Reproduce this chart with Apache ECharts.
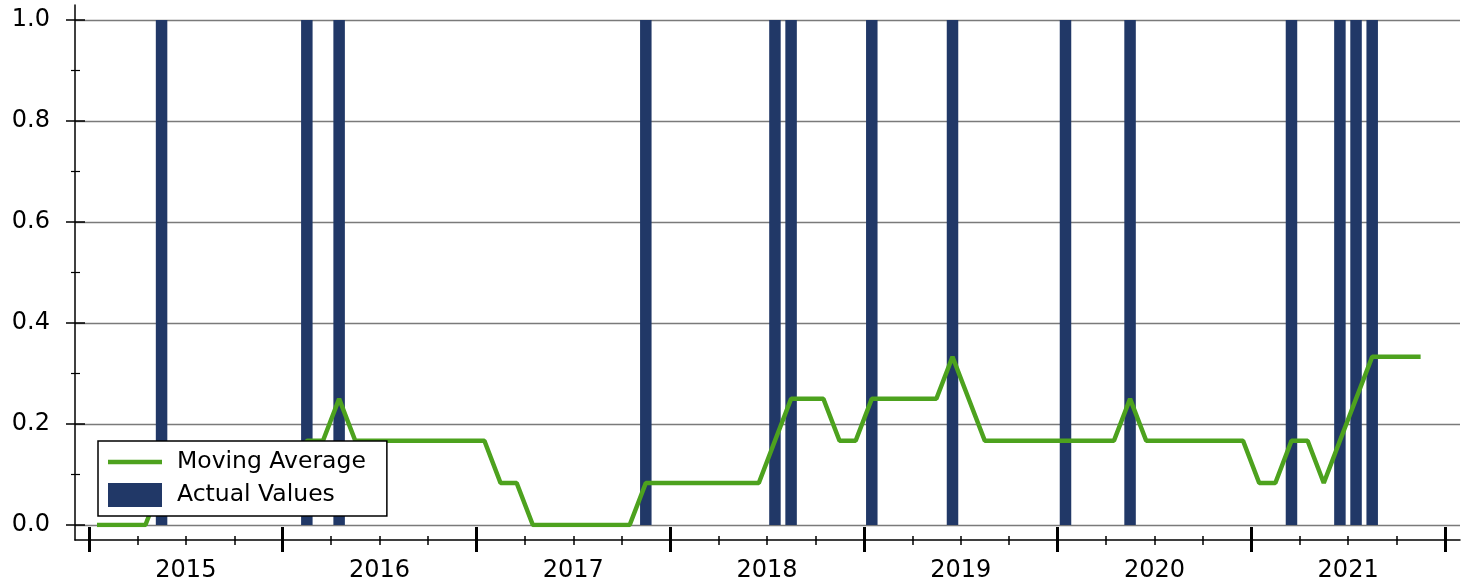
<!DOCTYPE html>
<html>
<head>
<meta charset="utf-8">
<script src="https://cdn.jsdelivr.net/npm/echarts@6/dist/echarts.min.js"></script>
<style>
html,body{margin:0;padding:0;background:#fff;}
#c{width:1467px;height:583px;}
</style>
</head>
<body>
<div id="c"></div>
<script>
// Monthly observations (mid-month), July 2014 .. May 2021
const months = [
  '2014-07','2014-08','2014-09','2014-10','2014-11','2014-12',
  '2015-01','2015-02','2015-03','2015-04','2015-05','2015-06','2015-07','2015-08','2015-09','2015-10','2015-11','2015-12',
  '2016-01','2016-02','2016-03','2016-04','2016-05','2016-06','2016-07','2016-08','2016-09','2016-10','2016-11','2016-12',
  '2017-01','2017-02','2017-03','2017-04','2017-05','2017-06','2017-07','2017-08','2017-09','2017-10','2017-11','2017-12',
  '2018-01','2018-02','2018-03','2018-04','2018-05','2018-06','2018-07','2018-08','2018-09','2018-10','2018-11','2018-12',
  '2019-01','2019-02','2019-03','2019-04','2019-05','2019-06','2019-07','2019-08','2019-09','2019-10','2019-11','2019-12',
  '2020-01','2020-02','2020-03','2020-04','2020-05','2020-06','2020-07','2020-08','2020-09','2020-10','2020-11','2020-12',
  '2021-01','2021-02','2021-03','2021-04','2021-05'
];

const actualValues = [
  0,0,0,0,1,0,
  0,0,0,0,0,0,0,1,0,1,0,0,
  0,0,0,0,0,0,0,0,0,0,0,0,
  0,0,0,0,1,0,0,0,0,0,0,0,
  1,1,0,0,0,0,1,0,0,0,0,1,
  0,0,0,0,0,0,1,0,0,0,1,0,
  0,0,0,0,0,0,0,0,1,0,0,1,
  1,1,0,0,0
];

const movingAverage = [
  0,0,0,0,0.0833,0.0833,
  0.0833,0.0833,0.0833,0.0833,0.0833,0.0833,0.0833,0.1667,0.1667,0.25,0.1667,0.1667,
  0.1667,0.1667,0.1667,0.1667,0.1667,0.1667,0.1667,0.0833,0.0833,0,0,0,
  0,0,0,0,0.0833,0.0833,0.0833,0.0833,0.0833,0.0833,0.0833,0.0833,
  0.1667,0.25,0.25,0.25,0.1667,0.1667,0.25,0.25,0.25,0.25,0.25,0.3333,
  0.25,0.1667,0.1667,0.1667,0.1667,0.1667,0.1667,0.1667,0.1667,0.1667,0.25,0.1667,
  0.1667,0.1667,0.1667,0.1667,0.1667,0.1667,0.0833,0.0833,0.1667,0.1667,0.0833,0.1667,
  0.25,0.3333,0.3333,0.3333,0.3333
];

const yearLabels = ['2015','2016','2017','2018','2019','2020','2021'];

const FONT = 'DejaVu Sans';
const BAR_COLOR = '#213867';
const LINE_COLOR = '#4DA21E';

const chart = echarts.init(document.getElementById('c'));

const barData = actualValues.map((v, i) => [i, v]);
const lineData = movingAverage.map((v, i) => [i, v]);

const hiddenAxisParts = {
  axisLine: {show: false, onZero: false},
  axisLabel: {show: false},
  splitLine: {show: false}
};

const option = {
  animation: false,
  backgroundColor: '#fff',
  textStyle: {fontFamily: FONT},
  grid: [
    {left: 75, right: 7, top: 20, bottom: 58},   // 0: data + y labels/outer ticks
    {left: 75, right: 7, top: 5, bottom: 43},    // 1: axis lines
    {left: 89, right: 22, top: 20, bottom: 43},  // 2: x ticks + year labels
    {left: 75, right: 7, top: 20, bottom: 58}    // 3: y inner ticks
  ],
  xAxis: [
    {gridIndex: 0, type: 'value', min: -1.363, max: 84.44, show: false, axisLine: {onZero: false}},
    {gridIndex: 1, type: 'value', min: 0, max: 1, position: 'bottom',
      axisLine: {show: true, onZero: false, lineStyle: {color: '#000', width: 1.5}},
      axisTick: {show: false}, axisLabel: {show: false}, splitLine: {show: false}},
    Object.assign({gridIndex: 2, type: 'category', data: yearLabels, boundaryGap: true, position: 'bottom',
      axisTick: {show: true, interval: 0, inside: true, length: 13, lineStyle: {color: '#000', width: 3}}}, hiddenAxisParts),
    {gridIndex: 2, type: 'category', data: yearLabels, boundaryGap: true, position: 'bottom',
      axisLine: {show: false, onZero: false}, splitLine: {show: false},
      axisTick: {show: true, interval: 0, inside: false, length: 12, lineStyle: {color: '#000', width: 3}},
      axisLabel: {show: true, interval: 0, margin: 19, fontSize: 24, color: '#000', fontFamily: FONT}},
    Object.assign({gridIndex: 2, type: 'value', min: 0, max: 28, interval: 1, position: 'bottom',
      axisTick: {show: true, inside: true, length: 4, lineStyle: {color: '#000', width: 1.5}}}, hiddenAxisParts),
    Object.assign({gridIndex: 2, type: 'value', min: 0, max: 28, interval: 1, position: 'bottom',
      axisTick: {show: true, inside: false, length: 5, lineStyle: {color: '#000', width: 1.5}}}, hiddenAxisParts),
    {gridIndex: 3, type: 'value', min: 0, max: 1, show: false, axisLine: {onZero: false}}
  ],
  yAxis: [
    {gridIndex: 0, type: 'value', min: 0, max: 1, interval: 0.2, position: 'left',
      axisLine: {show: false, onZero: false},
      axisTick: {show: true, inside: false, length: 9, lineStyle: {color: '#000', width: 1.5}},
      minorTick: {show: true, splitNumber: 2, length: 4, lineStyle: {color: '#000', width: 1.2}},
      axisLabel: {margin: 25, fontSize: 24, color: '#000', fontFamily: FONT, formatter: v => v.toFixed(1)},
      splitLine: {show: true, lineStyle: {color: '#7a7a7a', width: 1.3}}},
    {gridIndex: 1, type: 'value', min: 0, max: 1, position: 'left',
      axisLine: {show: true, onZero: false, lineStyle: {color: '#000', width: 1.5}},
      axisTick: {show: false}, axisLabel: {show: false}, splitLine: {show: false}},
    {gridIndex: 2, type: 'value', min: 0, max: 1, show: false, axisLine: {onZero: false}},
    Object.assign({gridIndex: 3, type: 'value', min: 0, max: 1, interval: 0.2, position: 'left',
      axisTick: {show: true, inside: true, length: 10, lineStyle: {color: '#000', width: 1.5}},
      minorTick: {show: true, splitNumber: 2, length: 5, lineStyle: {color: '#000', width: 1.2}}}, hiddenAxisParts)
  ],
  legend: {
    orient: 'vertical',
    left: 98,
    top: 441,
    itemWidth: 54,
    itemHeight: 24,
    itemGap: 9,
    padding: [9, 21, 9, 10],
    borderColor: '#000',
    borderWidth: 1.5,
    borderRadius: 0,
    backgroundColor: '#fff',
    itemStyle: {borderWidth: 0},
    data: [
      {name: 'Moving Average', icon: 'path://M0,0L54,0L54,0Z M0,9.75H54V14.25H0Z M0,24L54,24L54,24Z'},
      {name: 'Actual Values', icon: 'rect'}
    ],
    formatter: name => '{t|' + name + '}',
    textStyle: {
      fontSize: 23.5, color: '#000', fontFamily: FONT,
      rich: {t: {fontSize: 23.5, color: '#000', fontFamily: FONT, padding: [0, 0, 0, 10]}}
    }
  },
  series: [
    {
      name: 'Actual Values',
      type: 'bar',
      xAxisIndex: 0,
      yAxisIndex: 0,
      data: barData,
      barWidth: 11.5,
      itemStyle: {color: BAR_COLOR},
      z: 2
    },
    {
      name: 'Moving Average',
      type: 'line',
      xAxisIndex: 0,
      yAxisIndex: 0,
      data: lineData,
      symbol: 'none',
      showSymbol: false,
      lineStyle: {color: LINE_COLOR, width: 4.5},
      itemStyle: {color: LINE_COLOR},
      z: 3
    }
  ]
};

chart.setOption(option);
</script>
</body>
</html>
